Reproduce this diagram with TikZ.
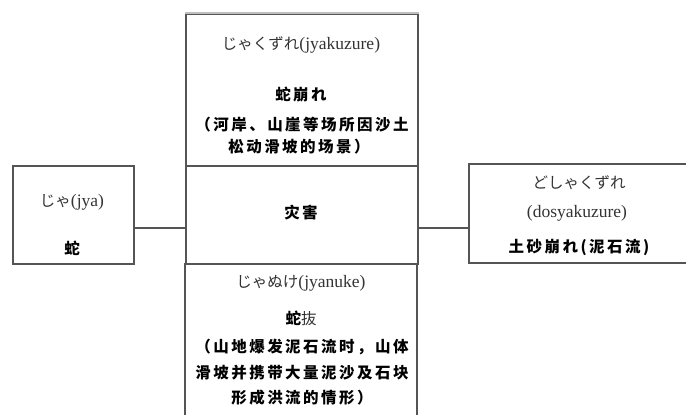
\documentclass[tikz,border=0pt]{standalone}
\usepackage{fontspec}
\setmainfont{Liberation Serif}
\newfontfamily\jpf{Noto Sans CJK JP}
\newfontfamily\zhf{Noto Sans CJK SC}[LetterSpace=16]
\newcommand\kn[1]{{\jpf\fontsize{15.5}{18}\selectfont #1}}
\newcommand\zhtxt[1]{{\zhf\bfseries\fontsize{15.5}{18}\selectfont #1}}
\definecolor{lineg}{HTML}{555555}
\definecolor{txtg}{HTML}{333333}
\begin{document}
\begin{tikzpicture}[x=1pt,y=-1pt,
  boxline/.style={draw=lineg,line width=1.5pt},
  jtext/.style={inner sep=0pt,text=txtg,font=\fontsize{17.5}{20}\selectfont},
  ztext/.style={inner sep=0pt,text=black},
  frame/.style={boxline,inner sep=0pt,anchor=north west}]
\useasboundingbox (0,0) rectangle (686,415);
% boxes
\node[frame,minimum width=232pt,minimum height=152pt] (topbox) at (185,13) {};
\node[frame,minimum width=232pt,minimum height=98pt] (midbox) at (185,165) {};
\node[frame,minimum width=121pt,minimum height=98pt] (leftbox) at (12,165) {};
\draw[draw=white,line width=1.7pt] (topbox.north west) -- (topbox.north east);
\draw[draw=black!25,line width=1.2pt] (topbox.north west) -- (topbox.north east);
% bottom box (open at the bottom)
\coordinate (botnw) at (185,263);
\coordinate (botne) at (417,263);
\coordinate (botsw) at (185,416);
\coordinate (botse) at (417,416);
\draw[boxline] (botsw) -- (botnw) (botne) -- (botse);
% right box (open at the right)
\coordinate (rnw) at (469,164);
\coordinate (rsw) at (469,263);
\coordinate (rne) at (687,164);
\coordinate (rse) at (687,263);
\draw[boxline] (rne) -- (rnw) -- (rsw) -- (rse);
% connectors
\coordinate (cy) at (0,228);
\draw[boxline] (leftbox.east |- cy) -- (midbox.west |- cy);
\draw[boxline] (midbox.east |- cy) -- (rnw |- cy);
% texts: top box
\node[jtext] (t1) at (301,45) {\kn{じゃくずれ}(jyakuzure)};
\node[ztext] (t2) at (301,95) {\zhtxt{蛇崩れ}};
\node[ztext] (t3) at (302,125) {\zhtxt{（河岸、山崖等场所因沙土}};
\node[ztext] (t4) at (299,147) {\zhtxt{松动滑坡的场景）}};
% middle
\node[ztext] (m1) at (301,213) {\zhtxt{灾害}};
% bottom
\node[jtext] (b1) at (301,283) {\kn{じゃぬけ}(jyanuke)};
\node[ztext] (b2) at (301,318) {\zhtxt{蛇}{\jpf\fontsize{15.5}{18}\selectfont\color{txtg}抜}};
\node[ztext] (b3) at (302,347) {\zhtxt{（山地爆发泥石流时，山体}};
\node[ztext] (b4) at (302,373) {\zhtxt{滑坡并携带大量泥沙及石块}};
\node[ztext] (b5) at (302,398) {\zhtxt{形成洪流的情形）}};
% left
\node[jtext] (l1) at (72,202) {\kn{じゃ}(jya)};
\node[ztext] (l2) at (72,248) {\zhtxt{蛇}};
% right
\node[jtext] (r1) at (579,183) {\kn{どしゃくずれ}};
\node[jtext] (r2) at (577,213) {(dosyakuzure)};
\node[ztext] (r3) at (579,247) {\zhtxt{土砂崩れ(泥石流)}};
\end{tikzpicture}
\end{document}
